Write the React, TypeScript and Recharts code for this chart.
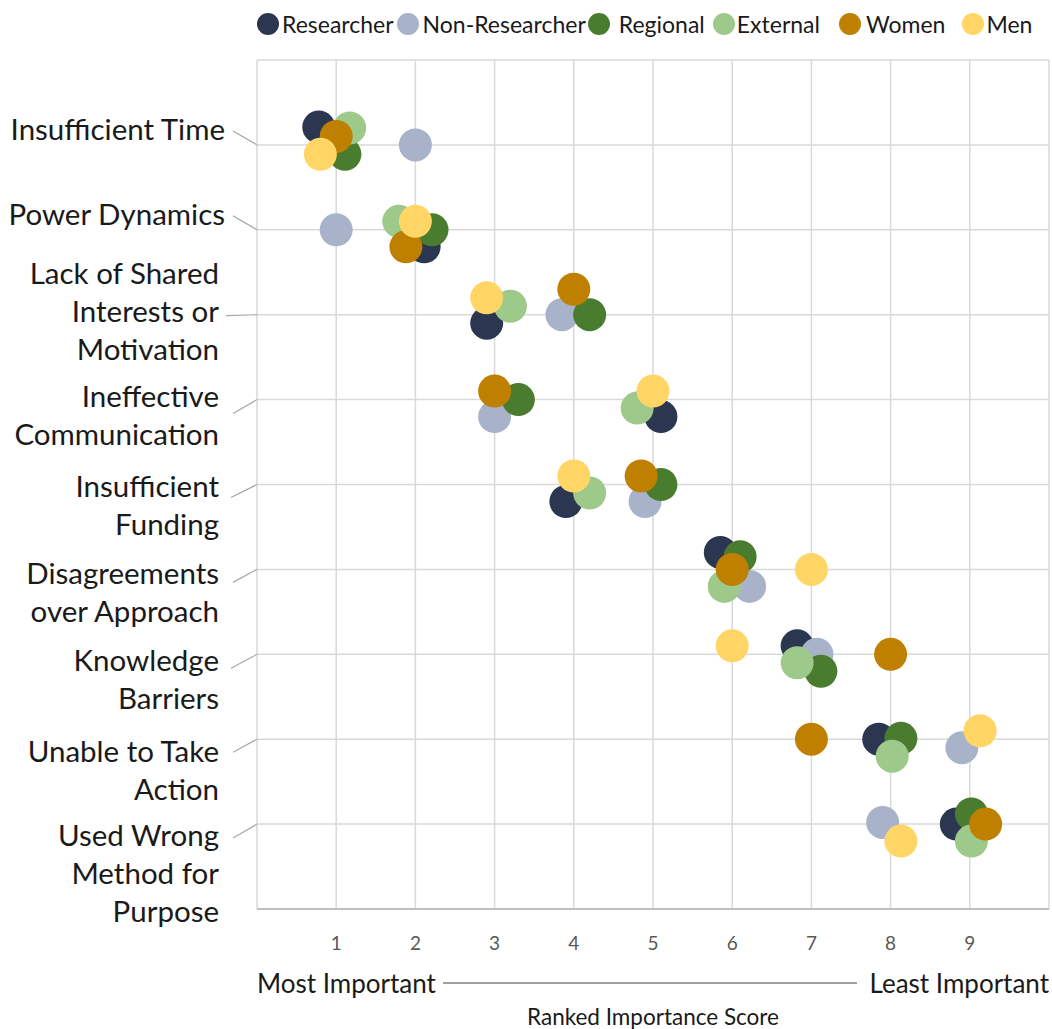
import React from 'react';
import { ScatterChart, Scatter, XAxis, YAxis, CartesianGrid, Label } from 'recharts';

// ---------- data ----------
const categoryLines: string[][] = [
  ['Insufficient Time'],
  ['Power Dynamics'],
  ['Lack of Shared', 'Interests or', 'Motivation'],
  ['Ineffective', 'Communication'],
  ['Insufficient', 'Funding'],
  ['Disagreements', 'over Approach'],
  ['Knowledge', 'Barriers'],
  ['Unable to Take', 'Action'],
  ['Used Wrong', 'Method for', 'Purpose'],
];
const categoryRows = [9, 8, 7, 6, 5, 4, 3, 2, 1];

const xTicks = [0, 1, 2, 3, 4, 5, 6, 7, 8, 9, 10];
const xTickLabels = ['', '1', '2', '3', '4', '5', '6', '7', '8', '9', ''];
const yTicks = [0, 1, 2, 3, 4, 5, 6, 7, 8, 9, 10];

const seriesNames = ['Researcher', 'Non-Researcher', 'Regional', 'External', 'Women', 'Men'];
const seriesColors = ['#2B3650', '#A8B2C9', '#4A7C2F', '#9DC98A', '#BF8000', '#FFD666'];

// score (x) and row position with jitter (y), one per category
const researcherX = [0.78, 2.11, 2.9, 5.1, 3.9, 5.85, 6.82, 7.85, 8.83];
const researcherY = [9.21, 7.8, 6.9, 5.8, 4.8, 4.2, 3.1, 2.0, 1.0];
const nonResearcherX = [2.0, 1.0, 3.85, 3.0, 4.9, 6.22, 7.07, 8.9, 7.9];
const nonResearcherY = [9.0, 8.0, 7.0, 5.8, 4.8, 3.8, 3.0, 1.9, 1.02];
const regionalX = [1.11, 2.21, 4.2, 3.3, 5.1, 6.1, 7.12, 8.13, 9.02];
const regionalY = [8.89, 8.0, 7.0, 6.0, 5.0, 4.15, 2.8, 2.01, 1.12];
const externalX = [1.17, 1.79, 3.2, 4.8, 4.2, 5.9, 6.82, 8.02, 9.02];
const externalY = [9.2, 8.1, 7.1, 5.9, 4.9, 3.8, 2.9, 1.8, 0.8];
const womenX = [1.0, 1.88, 4.0, 3.0, 4.85, 6.0, 8.0, 7.0, 9.2];
const womenY = [9.1, 7.8, 7.3, 6.1, 5.1, 4.0, 3.0, 2.0, 1.0];
const menX = [0.8, 2.0, 2.9, 5.0, 4.0, 7.0, 6.0, 9.13, 8.13];
const menY = [8.89, 8.1, 7.2, 6.1, 5.1, 4.0, 3.1, 2.1, 0.8];

const seriesX = [researcherX, nonResearcherX, regionalX, externalX, womenX, menX];
const seriesY = [researcherY, nonResearcherY, regionalY, externalY, womenY, menY];

const seriesData = seriesNames.map((name, s) =>
  categoryLines.map((lines, i) => ({ x: seriesX[s][i], y: seriesY[s][i], category: lines.join(' ') }))
);

// ---------- layout / style ----------
const FONT = 'Lato, "Open Sans", sans-serif';
const LINE_H = 38;
// per-label layout (first line centre offset from gridline, text right edge, leader start)
const labelLayout = [
  { dy: -16, right: 225, lx: 233, ly: -14 },
  { dy: -16, right: 225, lx: 233, ly: -14 },
  { dy: -42, right: 219, lx: 226, ly: 1 },
  { dy: -4, right: 219, lx: 233, ly: 14 },
  { dy: 1, right: 219, lx: 231, ly: 13 },
  { dy: 3, right: 219, lx: 233, ly: 13 },
  { dy: 5, right: 219, lx: 231, ly: 14 },
  { dy: 11, right: 219, lx: 233, ly: 13 },
  { dy: 10, right: 219, lx: 233, ly: 14 },
];
// legend spacing: gap between swatch and text, gap after item
const legendSpacing = [
  { inner: 3, after: 3 },
  { inner: 4, after: 2 },
  { inner: 9, after: 8 },
  { inner: 2, after: 19 },
  { inner: 5, after: 17 },
  { inner: 2, after: 0 },
];

const YTick = (props: any) => {
  const { y, payload } = props;
  const idx = categoryRows.indexOf(payload.value);
  if (idx < 0) return null;
  const lines = categoryLines[idx];
  const lay = labelLayout[idx];
  return (
    <g>
      <line x1={lay.lx} y1={y + lay.ly} x2={257} y2={y} stroke="#A6A6A6" strokeWidth={1.2} />
      {lines.map((t, k) => (
        <text
          key={k}
          x={lay.right}
          y={y + lay.dy + k * LINE_H}
          textAnchor="end"
          dominantBaseline="central"
          fontFamily={FONT}
          fontSize={29.5}
          fill="#1a1a1a"
        >
          {t}
        </text>
      ))}
    </g>
  );
};

const XTick = (props: any) => {
  const { x, y, payload } = props;
  const idx = xTicks.indexOf(payload.value);
  const label = idx >= 0 ? xTickLabels[idx] : '';
  if (!label) return null;
  return (
    <text x={x} y={y + 25} textAnchor="middle" dominantBaseline="central" fontFamily={FONT} fontSize={19} fill="#595959">
      {label}
    </text>
  );
};

const AxisCaption = (props: any) => {
  const vb = props.viewBox || { x: 257, y: 909, width: 792, height: 30 };
  const left = vb.x;
  const right = vb.x + vb.width;
  const baseY = 983;
  return (
    <g fontFamily={FONT} fill="#1a1a1a">
      <text x={left} y={baseY} textAnchor="start" dominantBaseline="central" fontSize={26}>Most Important</text>
      <line x1={left + 186} y1={baseY} x2={right - 192} y2={baseY} stroke="#404040" strokeWidth={1.2} />
      <text x={right} y={baseY} textAnchor="end" dominantBaseline="central" fontSize={26}>Least Important</text>
      <text x={left + vb.width / 2} y={1016} textAnchor="middle" dominantBaseline="central" fontSize={22.5}>
        Ranked Importance Score
      </text>
    </g>
  );
};

const Dot = (color: string) => (props: any) => {
  const { cx, cy } = props;
  if (cx == null || cy == null) return null;
  return <circle cx={cx} cy={cy} r={16.5} fill={color} />;
};

const LegendBar = () => (
  <div
    style={{
      position: 'absolute',
      top: 0,
      left: 257,
      height: 48,
      display: 'flex',
      alignItems: 'center',
      fontFamily: FONT,
      fontSize: 23,
      color: '#1a1a1a',
      whiteSpace: 'nowrap',
    }}
  >
    {seriesNames.map((n, i) => (
      <div key={n} style={{ display: 'flex', alignItems: 'center', marginRight: legendSpacing[i].after }}>
        <span
          style={{
            width: 22,
            height: 22,
            borderRadius: '50%',
            background: seriesColors[i],
            display: 'inline-block',
            marginRight: legendSpacing[i].inner,
          }}
        />
        <span>{n}</span>
      </div>
    ))}
  </div>
);

export default function App() {
  return (
    <div style={{ position: 'absolute', left: 0, top: 0, width: 1052, height: 1029, background: '#fff' }}>
      <LegendBar />
      <ScatterChart width={1052} height={1029} margin={{ top: 60, right: 3, bottom: 90, left: 0 }}>
        <CartesianGrid stroke="#D9D9D9" strokeWidth={1.5} />
        <XAxis
          type="number"
          dataKey="x"
          domain={[0, 10]}
          ticks={xTicks}
          interval={0}
          height={30}
          axisLine={{ stroke: '#BFBFBF', strokeWidth: 2 }}
          tickLine={false}
          tick={<XTick />}
        >
          <Label content={<AxisCaption />} />
        </XAxis>
        <YAxis
          type="number"
          dataKey="y"
          domain={[0, 10]}
          ticks={yTicks}
          interval={0}
          width={257}
          axisLine={false}
          tickLine={false}
          tick={<YTick />}
        />
        {seriesNames.map((n, i) => (
          <Scatter key={n} name={n} data={seriesData[i]} fill={seriesColors[i]} shape={Dot(seriesColors[i])} isAnimationActive={false} />
        ))}
      </ScatterChart>
    </div>
  );
}
